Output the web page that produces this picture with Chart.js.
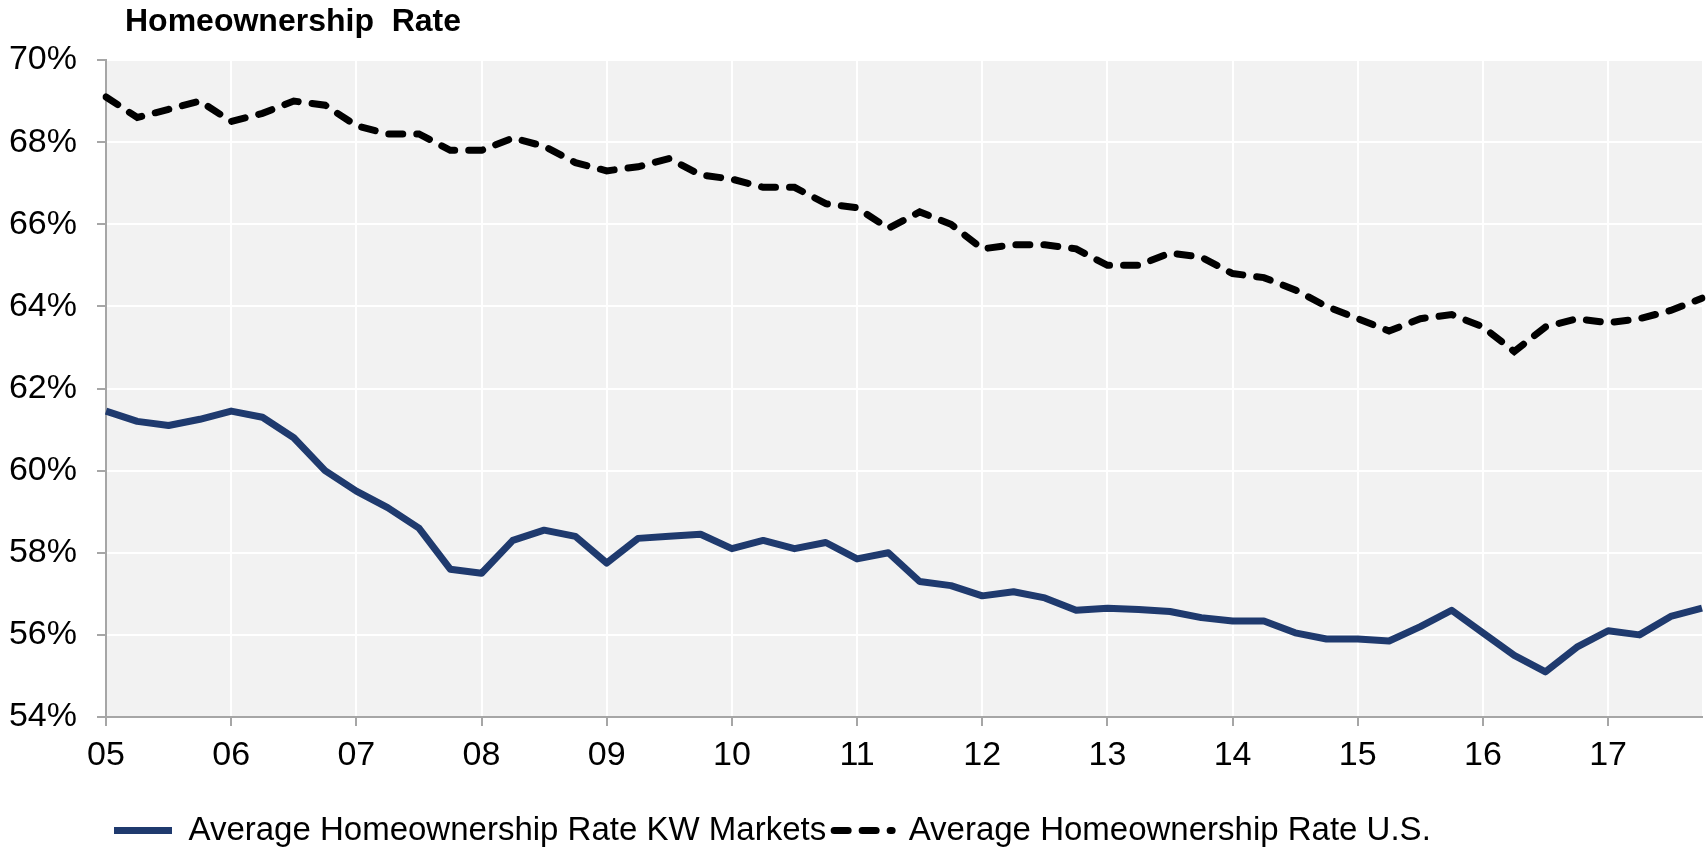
<!DOCTYPE html>
<html>
<head>
<meta charset="utf-8">
<title>Homeownership Rate</title>
<script src="https://cdn.jsdelivr.net/npm/chart.js@4/dist/chart.umd.min.js"></script>
<style>
    html, body { margin: 0; padding: 0; background: #fff; }
    #wrap { position: relative; width: 1708px; height: 849px; overflow: hidden; }
    #title {
        position: absolute; left: 125px; top: 2px;
        font: bold 32px "Liberation Sans", Arial, sans-serif; color: #000;
        white-space: pre;
    }
</style>
</head>
<body>
<div id="wrap">
    <div id="title">Homeownership  Rate</div>
    <canvas id="lineChart" width="1708" height="849"></canvas>
</div>
<script>
// Years on the x axis (one label per year, data is quarterly)
var years = ['05', '06', '07', '08', '09', '10', '11', '12', '13', '14', '15', '16', '17'];
var quarters = ['Q1', 'Q2', 'Q3', 'Q4'];

// Average homeownership rate, KW markets (%)
var kwRate = [
    61.45, 61.2, 61.1, 61.25,
    61.45, 61.3, 60.8, 60.0,
    59.5, 59.1, 58.6, 57.6,
    57.5, 58.3, 58.55, 58.4,
    57.75, 58.35, 58.4, 58.45,
    58.1, 58.3, 58.1, 58.25,
    57.85, 58.0, 57.3, 57.2,
    56.95, 57.05, 56.9, 56.6,
    56.65, 56.62, 56.57, 56.42,
    56.34, 56.34, 56.05, 55.9,
    55.9, 55.85, 56.2, 56.6,
    56.05, 55.5, 55.1, 55.7,
    56.1, 56.0, 56.45, 56.65
];

// Average homeownership rate, U.S. (%)
var usRate = [
    69.1, 68.6, 68.8, 69.0,
    68.5, 68.7, 69.0, 68.9,
    68.4, 68.2, 68.2, 67.8,
    67.8, 68.1, 67.9, 67.5,
    67.3, 67.4, 67.6, 67.2,
    67.1, 66.9, 66.9, 66.5,
    66.4, 65.9, 66.3, 66.0,
    65.4, 65.5, 65.5, 65.4,
    65.0, 65.0, 65.3, 65.2,
    64.8, 64.7, 64.4, 64.0,
    63.7, 63.4, 63.7, 63.8,
    63.5, 62.9, 63.5, 63.7,
    63.6, 63.7, 63.9, 64.2
];

// y axis range
var yMin = 54, yMax = 70, yStep = 2;

// one category per quarter
var labels = [];
years.forEach(function (y) {
    quarters.forEach(function (q) { labels.push(y + ' ' + q); });
});

var font = '"Liberation Sans", Arial, sans-serif';
var axisGray = '#A6A6A6';

// grey plot background
var plotBackground = {
    id: 'plotBackground',
    beforeDraw: function (chart) {
        var a = chart.chartArea, ctx = chart.ctx;
        ctx.save();
        ctx.fillStyle = '#F2F2F2';
        ctx.fillRect(a.left, a.top, a.right - a.left, a.bottom - a.top);
        ctx.restore();
    }
};

Chart.defaults.font.family = font;
Chart.defaults.color = '#000';

var ctx = document.getElementById('lineChart').getContext('2d');
new Chart(ctx, {
    type: 'line',
    data: {
        labels: labels,
        datasets: [
            {
                label: 'Average Homeownership Rate KW Markets',
                data: kwRate,
                borderColor: '#1F3A6E',
                backgroundColor: '#1F3A6E',
                borderWidth: 7,
                borderJoinStyle: 'round',
                pointRadius: 0,
                fill: false
            },
            {
                label: 'Average Homeownership Rate U.S.',
                data: usRate,
                borderColor: '#000',
                backgroundColor: '#000',
                borderWidth: 7,
                borderDash: [14, 14],
                borderCapStyle: 'round',
                pointRadius: 0,
                fill: false
            }
        ]
    },
    options: {
        responsive: false,
        animation: false,
        layout: { padding: { top: 60, left: 8, right: 6, bottom: -8 } },
        scales: {
            x: {
                offset: false,
                afterFit: function (scale) {
                    scale.height = 89;
                    scale.paddingLeft = 0;
                    scale.paddingRight = 0;
                },
                grid: {
                    color: function (c) { return c.index % 4 === 0 ? '#FFFFFF' : 'rgba(0,0,0,0)'; },
                    tickColor: function (c) { return c.index % 4 === 0 ? axisGray : 'rgba(0,0,0,0)'; },
                    lineWidth: 2,
                    tickLength: 9
                },
                border: { color: axisGray, width: 2 },
                ticks: {
                    autoSkip: false,
                    maxRotation: 0,
                    padding: 9,
                    font: { size: 34 },
                    callback: function (val, index) {
                        return index % 4 === 0 ? years[index / 4] : '';
                    }
                }
            },
            y: {
                min: yMin,
                max: yMax,
                afterFit: function (scale) { scale.width = 98; },
                grid: { color: '#FFFFFF', lineWidth: 2, tickColor: axisGray, tickLength: 9 },
                border: { color: axisGray, width: 2 },
                ticks: {
                    stepSize: yStep,
                    padding: 20,
                    font: { size: 34 },
                    callback: function (v) { return v + '%'; }
                }
            }
        },
        plugins: {
            legend: {
                position: 'bottom',
                align: 'start',
                fullSize: false,
                labels: {
                    usePointStyle: true,
                    pointStyle: 'line',
                    pointStyleWidth: 58,
                    boxHeight: 34,
                    padding: 8,
                    font: { size: 33 },
                    color: '#000',
                    // keep the dash pattern of each line in its legend sample
                    generateLabels: function (chart) {
                        var items = Chart.defaults.plugins.legend.labels.generateLabels(chart);
                        items.forEach(function (item) {
                            var ds = chart.data.datasets[item.datasetIndex];
                            item.lineDash = ds.borderDash || [];
                            item.lineCap = ds.borderCapStyle || 'butt';
                        });
                        return items;
                    }
                }
            },
            title: { display: false },
            tooltip: { enabled: false }
        }
    },
    plugins: [plotBackground]
});
</script>
</body>
</html>
